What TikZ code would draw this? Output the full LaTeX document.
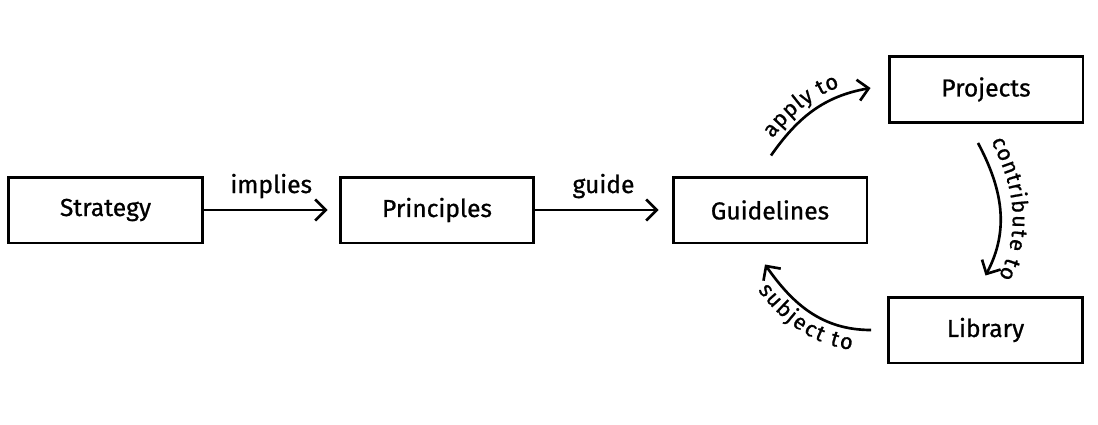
\documentclass[tikz,border=0pt]{standalone}
\usepackage{fontspec}
\setmainfont{Fira Sans}[UprightFeatures={FakeBold=0.8}]
\usetikzlibrary{arrows.meta,decorations.text,calc}
\begin{document}
\begin{tikzpicture}[x=0.02cm,y=0.02cm,
  box/.style={draw, line width=1.7pt, minimum width=3.88cm, minimum height=1.32cm, inner sep=0pt, font=\fontsize{14}{16}\selectfont},
  arr/.style={line width=1.5pt, -{Straight Barb[length=6pt,width=12pt,line width=1.5pt]}},
  lab/.style={font=\fontsize{14}{16}\selectfont, inner sep=0pt},
  curvetext/.style={decorate, decoration={text along path, raise=#1}}]
\useasboundingbox (0,0) rectangle (1098,424);
% boxes
\node[box] (s)  at (105.5,214) {Strategy};
\node[box] (p)  at (437,214)   {Principles};
\node[box] (g)  at (770,214)   {Guidelines};
\node[box] (pj) at (986,334.5) {Projects};
\node[box] (l)  at (985.5,94)  {Library};
% straight arrows
\draw[arr, shorten >=0.22cm] (s) -- (p) node[lab, pos=0.5, anchor=base, yshift=0.34cm] {implies};
\draw[arr, shorten >=0.26cm] (p) -- (g) node[lab, pos=0.5, anchor=base, yshift=0.34cm] {guide};
% curve endpoints
\coordinate (a1) at ($(g.north)+(1,20)$);
\coordinate (a2) at ($(pj.west)+(-17,1.5)$);
\coordinate (c1) at ($(pj.south)+(-8,-19)$);
\coordinate (c2) at ($(l.north)+(0,20)$);
\coordinate (b1) at ($(l.west)+(-16,0)$);
\coordinate (b2) at ($(g.south)+(-5,-20)$);
% curved arrows
\draw[arr] (a1) to[out=55,in=190] (a2);
\path[curvetext=5pt, decoration={text align={left, left indent=8pt}, text={|\fontsize{12.5}{15}\selectfont|apply to}}] (a1) to[out=55,in=190] (a2);
\draw[arr] (c1) to[out=-62,in=62] (c2);
\path[curvetext=7pt, decoration={text align=center, text={|\fontsize{12.5}{15}\selectfont|contribute to}}] (c1) to[out=-62,in=62] (c2);
\draw[arr] (b1) to[out=180,in=-55] (b2);
\path[curvetext=-12pt, decoration={text align=center, text={|\fontsize{12.5}{15}\selectfont|subject to}}] (b2) to[out=-55,in=180] (b1);
\end{tikzpicture}
\end{document}
